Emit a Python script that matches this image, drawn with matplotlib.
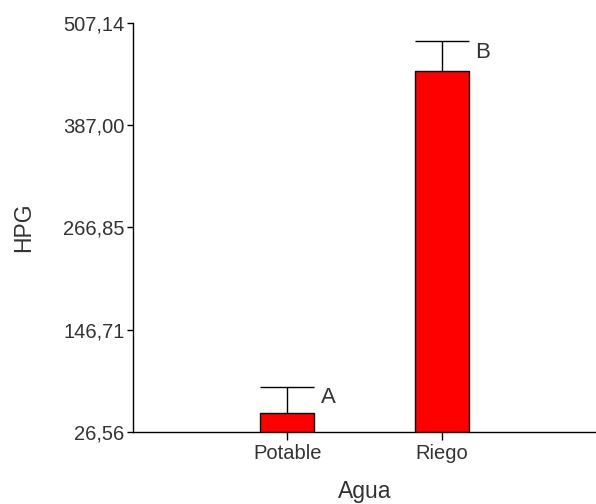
import matplotlib
matplotlib.use("Agg")
import matplotlib.pyplot as plt

# Data
categories = ["Potable", "Riego"]
means = [48.5, 450.9]
errors = [30.6, 35.2]
groups = ["A", "B"]
yticks = [26.56, 146.71, 266.85, 387.00, 507.14]
ytick_labels = ["26,56", "146,71", "266,85", "387,00", "507,14"]

plt.rcParams["font.family"] = ["Liberation Sans", "DejaVu Sans"]

fig = plt.figure(figsize=(5.96, 5.04), dpi=100)
ax = fig.add_axes([0.2232, 0.1429, 0.7768, 0.8115])

x = [1, 2]
width = 0.35
ax.bar(x, means, width=width, color="#ff0000", edgecolor="black", linewidth=1.0, zorder=2)

# upper-only error bars with a cap as wide as the bar
tops = [m + e for m, e in zip(means, errors)]
ax.vlines(x, means, tops, colors="black", linewidth=1.0, zorder=3)
ax.hlines(tops, [xi - width / 2 for xi in x], [xi + width / 2 for xi in x],
          colors="black", linewidth=1.0, zorder=3)

for xi, m, e, g in zip(x, means, errors, groups):
    ax.text(xi + 0.215, m + e * 0.6, g, fontsize=16, color="#333333",
            ha="left", va="center")

ax.set_xlim(0, 3)
ax.set_ylim(yticks[0], yticks[-1])
ax.set_yticks(yticks)
ax.set_yticklabels(ytick_labels)
ax.set_xticks(x)
ax.set_xticklabels(categories)

for s in ["top", "right"]:
    ax.spines[s].set_visible(False)
for s in ["left", "bottom"]:
    ax.spines[s].set_linewidth(1.0)
    ax.spines[s].set_color("black")

ax.tick_params(axis="y", direction="out", length=4.5, width=1.0,
               labelsize=14.5, labelcolor="#333333", pad=1.5)
ax.tick_params(axis="x", direction="out", length=6, width=1.0,
               labelsize=14.5, labelcolor="#333333", pad=3)

ax.set_xlabel("Agua", fontsize=16.5, color="#333333")
ax.set_ylabel("HPG", fontsize=16.5, color="#333333")
ax.xaxis.set_label_coords(0.5, -0.146)
ax.yaxis.set_label_coords(-0.237, 0.5)
ax.xaxis.label.set_va("center")
ax.yaxis.label.set_va("center")

fig.savefig("out.png", dpi=100)
